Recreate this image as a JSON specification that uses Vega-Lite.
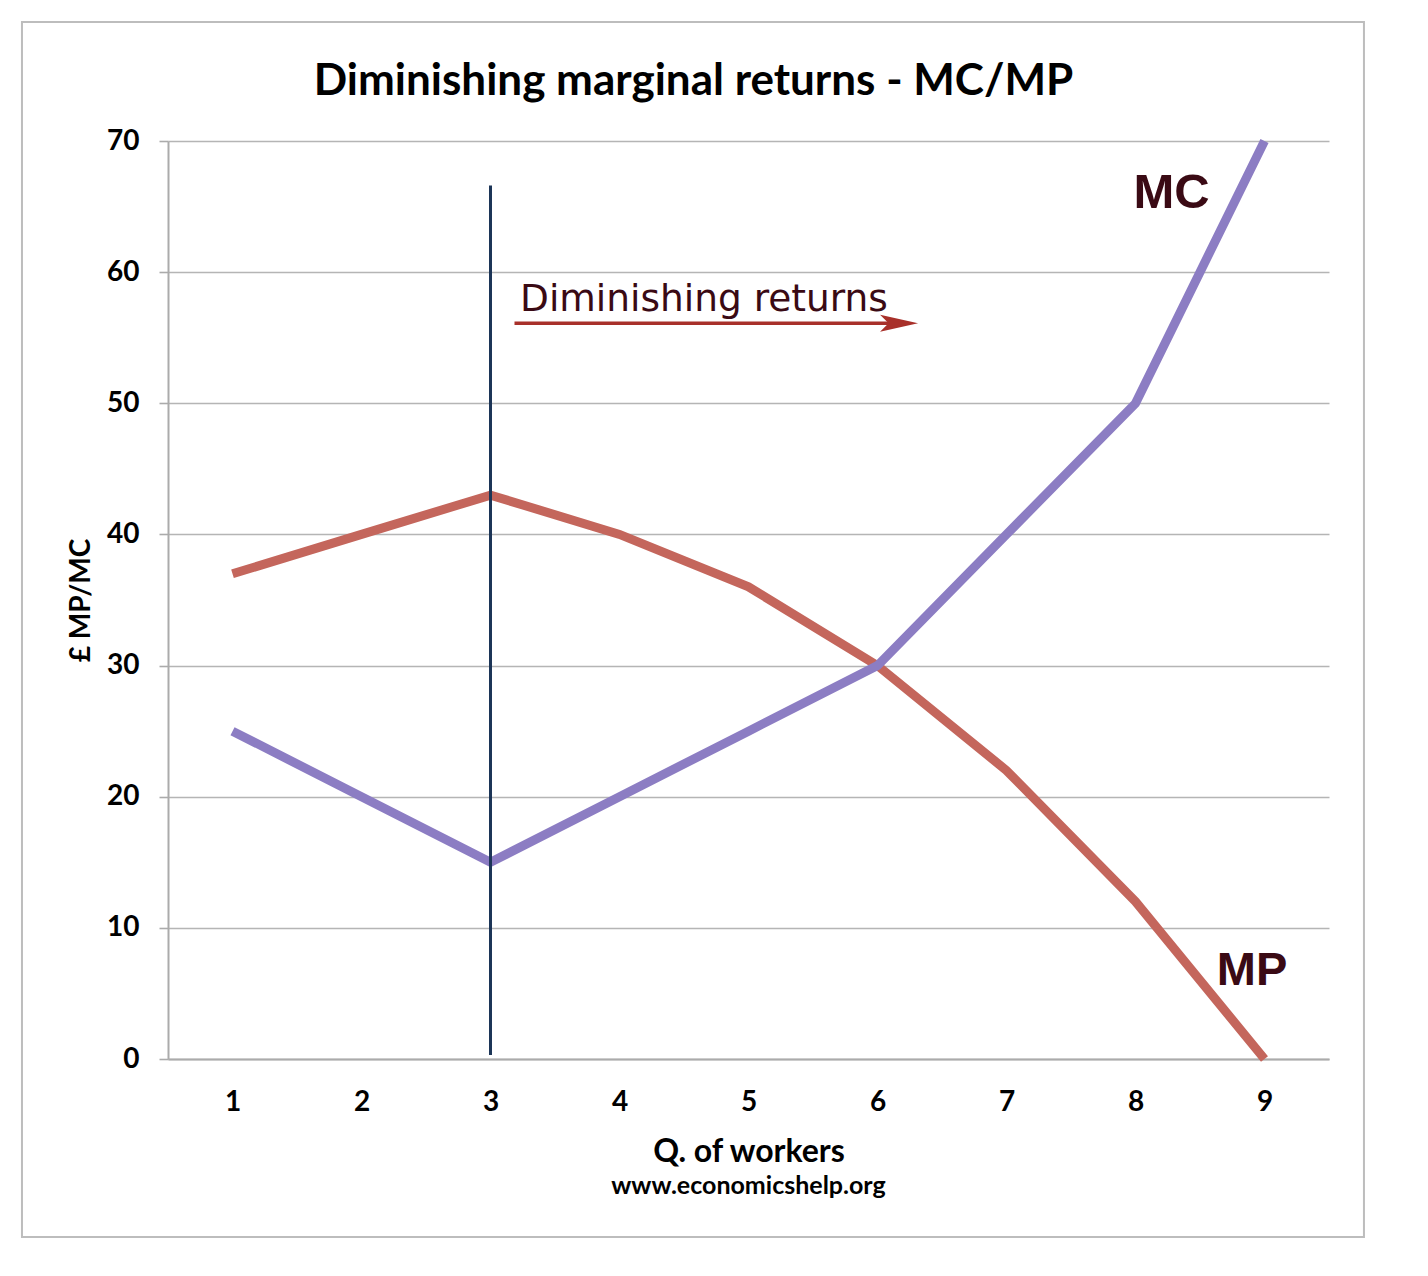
{
  "$schema": "https://vega.github.io/schema/vega-lite/v6.json",
  "autosize": "none",
  "width": 1161,
  "height": 918,
  "padding": {"left": 168, "top": 141, "right": 99, "bottom": 217},
  "background": "white",
  "title": {
    "text": "Diminishing marginal returns - MC/MP",
    "font": "Lato",
    "fontSize": 44,
    "fontWeight": "bold",
    "color": "#000000",
    "anchor": "middle",
    "dx": -55,
    "baseline": "alphabetic",
    "offset": -118
  },
  "config": {
    "view": {"stroke": null},
    "axis": {
      "labelFont": "Lato",
      "labelFontWeight": "bold",
      "labelColor": "#000000",
      "titleFont": "Lato",
      "titleFontWeight": "bold",
      "titleColor": "#000000",
      "domainColor": "#ababab",
      "domainWidth": 2,
      "gridColor": "#b5b5b5",
      "gridWidth": 1.6,
      "tickColor": "#ababab",
      "tickWidth": 1.6
    }
  },
  "data": {
    "values": [
      {"q": 1, "value": 37, "series": "MP"},
      {"q": 2, "value": 40, "series": "MP"},
      {"q": 3, "value": 43, "series": "MP"},
      {"q": 4, "value": 40, "series": "MP"},
      {"q": 5, "value": 36, "series": "MP"},
      {"q": 6, "value": 30, "series": "MP"},
      {"q": 7, "value": 22, "series": "MP"},
      {"q": 8, "value": 12, "series": "MP"},
      {"q": 9, "value": 0, "series": "MP"},
      {"q": 1, "value": 25, "series": "MC"},
      {"q": 2, "value": 20, "series": "MC"},
      {"q": 3, "value": 15, "series": "MC"},
      {"q": 4, "value": 20, "series": "MC"},
      {"q": 5, "value": 25, "series": "MC"},
      {"q": 6, "value": 30, "series": "MC"},
      {"q": 7, "value": 40, "series": "MC"},
      {"q": 8, "value": 50, "series": "MC"},
      {"q": 9, "value": 70, "series": "MC"}
    ]
  },
  "layer": [
    {
      "data": {"values": [{}]},
      "mark": {"type": "rect", "fill": null, "stroke": "#bdbdbd", "strokeWidth": 2},
      "encoding": {
        "x": {"datum": -0.632, "type": "quantitative"},
        "x2": {"datum": 9.771},
        "y": {"datum": 79.08, "type": "quantitative"},
        "y2": {"datum": -13.58}
      }
    },
    {
      "mark": {"type": "line", "strokeWidth": 9, "strokeCap": "butt", "strokeJoin": "miter"},
      "encoding": {
        "x": {
          "field": "q",
          "type": "quantitative",
          "scale": {"domain": [0.5, 9.5], "nice": false, "zero": false},
          "axis": {
            "values": [1, 2, 3, 4, 5, 6, 7, 8, 9],
            "format": "d",
            "grid": false,
            "ticks": false,
            "domain": true,
            "labelFontSize": 28,
            "labelPadding": 29,
            "title": "Q. of workers",
            "titleFontSize": 32,
            "titlePadding": 20
          }
        },
        "y": {
          "field": "value",
          "type": "quantitative",
          "scale": {"domain": [0, 70], "nice": false},
          "axis": {
            "values": [0, 10, 20, 30, 40, 50, 60, 70],
            "grid": true,
            "ticks": true,
            "tickSize": 9,
            "domain": true,
            "labelFontSize": 28,
            "labelPadding": 20,
            "title": "£ MP/MC",
            "titleFontSize": 28,
            "titlePadding": 11
          }
        },
        "color": {
          "field": "series",
          "type": "nominal",
          "scale": {"domain": ["MP", "MC"], "range": ["#c4665c", "#8c7dc3"]},
          "legend": null
        },
        "detail": {"field": "series"}
      }
    },
    {
      "data": {"values": [{}]},
      "mark": {"type": "rule", "color": "#1c3557", "strokeWidth": 3},
      "encoding": {
        "x": {"datum": 3, "type": "quantitative"},
        "y": {"datum": 0.3, "type": "quantitative"},
        "y2": {"datum": 66.6}
      }
    },
    {
      "data": {"values": [{}]},
      "mark": {"type": "rule", "color": "#a8302a", "strokeWidth": 3.5},
      "encoding": {
        "x": {"datum": 3.186, "type": "quantitative"},
        "x2": {"datum": 6.1},
        "y": {"datum": 56.1, "type": "quantitative"}
      }
    },
    {
      "data": {"values": [{}]},
      "mark": {"type": "point", "shape": "M-1,-0.45L1,0L-1,0.45L-0.55,0Z", "filled": true, "color": "#a8302a", "size": 1444, "opacity": 1},
      "encoding": {
        "x": {"datum": 6.167, "type": "quantitative"},
        "y": {"datum": 56.1, "type": "quantitative"}
      }
    },
    {
      "data": {"values": [{}]},
      "mark": {"type": "text", "text": "Diminishing returns", "font": "DejaVu Sans", "fontSize": 37.5, "color": "#3a0a14", "align": "left", "baseline": "alphabetic"},
      "encoding": {
        "x": {"datum": 3.229, "type": "quantitative"},
        "y": {"datum": 57.04, "type": "quantitative"}
      }
    },
    {
      "data": {"values": [{}]},
      "mark": {"type": "text", "text": "MC", "font": "Liberation Sans", "fontWeight": "bold", "fontSize": 49, "color": "#3a0a14", "align": "center", "baseline": "alphabetic"},
      "encoding": {
        "x": {"datum": 8.28, "type": "quantitative"},
        "y": {"datum": 64.89, "type": "quantitative"}
      }
    },
    {
      "data": {"values": [{}]},
      "mark": {"type": "text", "text": "MP", "font": "Liberation Sans", "fontWeight": "bold", "fontSize": 47, "color": "#3a0a14", "align": "center", "baseline": "alphabetic"},
      "encoding": {
        "x": {"datum": 8.903, "type": "quantitative"},
        "y": {"datum": 5.64, "type": "quantitative"}
      }
    },
    {
      "data": {"values": [{}]},
      "mark": {"type": "text", "text": "www.economicshelp.org", "font": "Lato", "fontWeight": "bold", "fontSize": 25, "color": "#000000", "align": "center", "baseline": "alphabetic"},
      "encoding": {
        "x": {"datum": 5, "type": "quantitative"},
        "y": {"datum": -10.29, "type": "quantitative"}
      }
    }
  ]
}
